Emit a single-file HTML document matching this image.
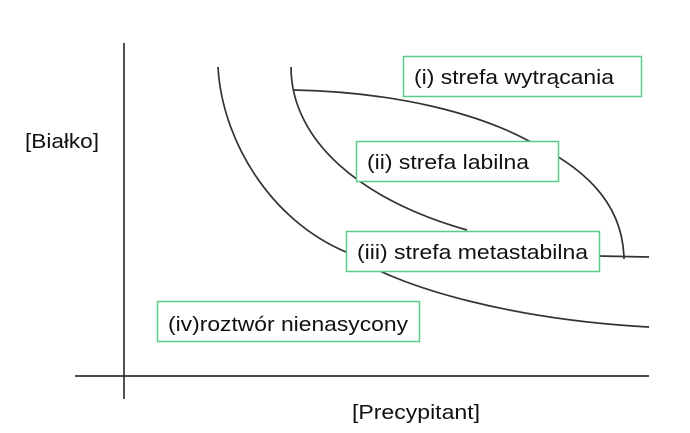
<!DOCTYPE html>
<html><head><meta charset="utf-8"><style>body{margin:0;background:#fff}svg{display:block}</style></head><body>
<svg width="690" height="433" viewBox="0 0 690 433" xmlns="http://www.w3.org/2000/svg" font-family="Liberation Sans, sans-serif" font-size="20" fill="#111">
<g stroke="#333" stroke-width="1.7" fill="none">
<line x1="124" y1="43" x2="124" y2="399"/>
<line x1="75" y1="376" x2="649" y2="376"/>
<path d="M218,67 C222,140 270,220 346,252 C400,290 520,320 649,327"/>
<path d="M291,67 C291,140 360,200 467,230"/>
<path d="M293,90 C400,92 480,115 527,140 C580,165 623,200 624,259"/>
<line x1="599" y1="256" x2="649" y2="257"/>
</g>
<g fill="#fff" stroke="#5ccb8a" stroke-width="1.5">
<rect x="403.5" y="56.5" width="238" height="40"/>
<rect x="356.5" y="141.5" width="202" height="40"/>
<rect x="346.5" y="231.5" width="253" height="40"/>
<rect x="157.5" y="301.5" width="262" height="40"/>
</g>
<text x="414" y="84" textLength="200" lengthAdjust="spacingAndGlyphs">(i) strefa wytrącania</text>
<text x="367" y="169" textLength="162" lengthAdjust="spacingAndGlyphs">(ii) strefa labilna</text>
<text x="357" y="259" textLength="231" lengthAdjust="spacingAndGlyphs">(iii) strefa metastabilna</text>
<text x="168" y="331" textLength="240" lengthAdjust="spacingAndGlyphs">(iv)roztwór nienasycony</text>
<text x="25" y="148" textLength="74" lengthAdjust="spacingAndGlyphs">[Białko]</text>
<text x="352" y="419" textLength="128" lengthAdjust="spacingAndGlyphs">[Precypitant]</text>
</svg>
</body></html>
